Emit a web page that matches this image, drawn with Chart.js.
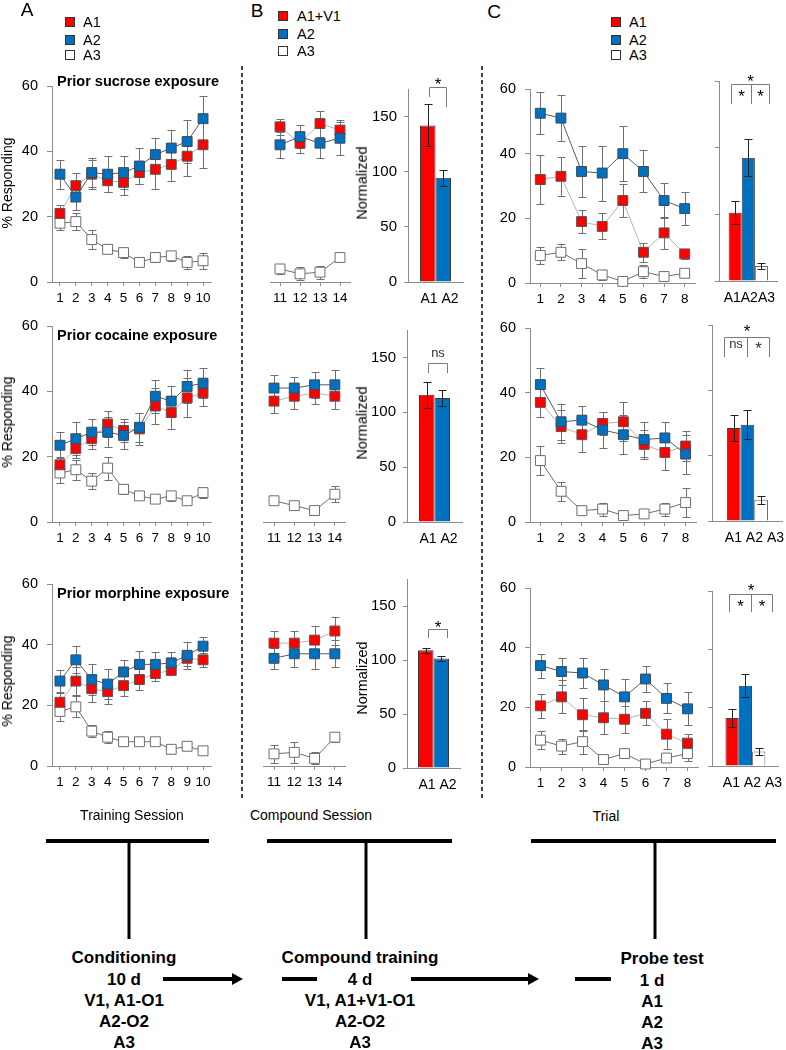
<!DOCTYPE html>
<html>
<head>
<meta charset="utf-8">
<script src="https://cdn.jsdelivr.net/npm/chart.js@4.4.1/dist/chart.umd.min.js"></script>
<style>
  body { margin: 0; width: 786px; height: 1050px; position: relative; overflow: hidden; background: #fff;
         font-family: "Liberation Sans", Arial, Helvetica, sans-serif; }
  canvas { position: absolute; }
  svg { position: absolute; left: 0; top: 0; }
  .t { position: absolute; white-space: nowrap; line-height: 1; color: #000; }
  .sw { position: absolute; width: 10px; height: 10px; box-sizing: border-box; border: 1px solid #333; }
</style>
</head>
<body>
<svg width="786" height="1050">
  <g stroke="#000" stroke-width="1.5" stroke-dasharray="4 3">
    <line x1="242" y1="66" x2="242" y2="798"/>
    <line x1="482" y1="66" x2="482" y2="798"/>
  </g>
  <g stroke="#000" stroke-width="4">
    <line x1="46" y1="841" x2="209" y2="841"/>
    <line x1="267" y1="841" x2="452" y2="841"/>
    <line x1="531" y1="841" x2="776" y2="841"/>
    <line x1="163" y1="979" x2="234" y2="979"/>
    <line x1="282" y1="979" x2="317" y2="979"/>
    <line x1="411" y1="979" x2="529" y2="979"/>
    <line x1="575" y1="979" x2="611" y2="979"/>
  </g>
  <g stroke="#000" stroke-width="3">
    <line x1="129" y1="841" x2="129" y2="939"/>
    <line x1="366" y1="841" x2="366" y2="939"/>
    <line x1="655" y1="841" x2="655" y2="939"/>
  </g>
  <polygon points="232,973 243,979 232,985" fill="#000"/>
  <polygon points="528,973 539,979 528,985" fill="#000"/>
</svg>
<script>
// ---------- data ----------
const sessions = ['1', '2', '3', '4', '5', '6', '7', '8', '9', '10'];
const compSessions = ['11', '12', '13', '14'];
const trials = ['1', '2', '3', '4', '5', '6', '7', '8'];
const normCats = ['A1', 'A2'];
const meanCats = ['A1', 'A2', 'A3'];

// prior sucrose exposure
const sucTrainA1 = [21, 29.5, 33, 31, 30.5, 33.5, 34.5, 36, 38.5, 42];
const sucTrainA1Err = [2.5, 4, 4.5, 3.5, 4, 3.5, 6, 5, 6, 7];
const sucTrainA2 = [33, 26, 33.5, 33, 33.5, 35.5, 39, 41, 43, 50];
const sucTrainA2Err = [4.5, 4, 4.5, 5.5, 5, 5.5, 5, 5.5, 6.5, 7];
const sucTrainA3 = [18, 18.5, 13, 10, 9, 6, 7.5, 8, 6, 6.5];
const sucTrainA3Err = [2, 2.5, 3, 1, 1.5, 0.5, 1.5, 1.5, 2, 2.5];
const sucCompA1 = [47.5, 42.5, 48.5, 46.5];
const sucCompA1Err = [2.5, 3, 4, 3];
const sucCompA2 = [42, 44.5, 42.5, 44];
const sucCompA2Err = [4, 3.5, 4.5, 5];
const sucCompA3 = [4, 2.5, 3, 7.5];
const sucCompA3Err = [1.5, 2, 2, 0.5];
const sucNorm = [142, 94.5];
const sucNormErr = [19, 7.5];
const sucProbeA1 = [32, 33, 19, 17.5, 25.5, 9.5, 15.5, 9];
const sucProbeA1Err = [7.5, 6, 3.5, 4, 5, 3, 5, 1.5];
const sucProbeA2 = [52.5, 51, 34.5, 34, 40, 34.5, 25.5, 23];
const sucProbeA2Err = [6.5, 7, 8, 8.5, 8.5, 6.5, 5.5, 5];
const sucProbeA3 = [8.5, 9.5, 6, 2.5, 0.5, 3.5, 2, 3];
const sucProbeA3Err = [2.5, 2.5, 4.5, 1.5, 0.5, 2, 1.5, 1];
const sucMean = [20.5, 37, 4.5];
const sucMeanErr = [3.5, 5.5, 1];

// prior cocaine exposure
const cocTrainA1 = [17.5, 22.5, 25.5, 30, 28, 28.5, 35.5, 33.5, 38, 39.5];
const cocTrainA1Err = [2.5, 3, 3, 4, 3.5, 5, 5.5, 5, 6, 4];
const cocTrainA2 = [23.5, 25.5, 27.5, 27.5, 26.5, 29, 38.5, 37, 41.5, 42.5];
const cocTrainA2Err = [4, 5, 4, 4.5, 4, 4.5, 5, 4.5, 5, 4.5];
const cocTrainA3 = [15, 16, 12.5, 16.5, 10, 8, 7, 8, 6.5, 9];
const cocTrainA3Err = [3, 3, 2.5, 3.5, 1.5, 1, 1, 1.5, 0.5, 1.5];
const cocCompA1 = [37, 38.5, 39.5, 38.5];
const cocCompA1Err = [3.5, 4, 3.5, 4];
const cocCompA2 = [41, 41, 42, 42];
const cocCompA2Err = [4, 3.5, 4, 4.5];
const cocCompA3 = [6.5, 5, 3.5, 8.5];
const cocCompA3Err = [0.5, 0.5, 0.5, 2.5];
const cocNorm = [116, 113];
const cocNormErr = [12, 7];
const cocProbeA1 = [37, 29.5, 27, 30.5, 31, 24, 21.5, 23.5];
const cocProbeA1Err = [4.5, 5, 5.5, 3.5, 6, 4.5, 5.5, 4.5];
const cocProbeA2 = [42.5, 31, 31.5, 28.5, 27, 25.5, 26, 21];
const cocProbeA2Err = [5, 5.5, 4.5, 5.5, 6, 5.5, 5, 6];
const cocProbeA3 = [19, 9.5, 3.5, 4, 2, 2.5, 4, 6];
const cocProbeA3Err = [4.5, 3, 1, 2, 1, 1, 2, 4.5];
const cocMean = [28.5, 29.5, 6.5];
const cocMeanErr = [4, 4.5, 1.2];

// prior morphine exposure
const morTrainA1 = [21, 28, 25.5, 24.5, 26.5, 28.5, 30.5, 31.5, 35.5, 35];
const morTrainA1Err = [3, 4.5, 4.5, 4, 3.5, 3.5, 2.5, 1.2, 2.5, 2.2];
const morTrainA2 = [28, 35, 28.5, 27, 31, 33.5, 33.5, 34, 36.5, 39.5];
const morTrainA2Err = [3.5, 4.5, 5, 5, 4, 4.5, 4, 3.5, 4.5, 3];
const morTrainA3 = [18, 19.5, 11.5, 9.5, 8, 8, 8, 5.5, 6.5, 5];
const morTrainA3Err = [3, 3.5, 2, 2, 1, 0.5, 0.5, 0.5, 0.5, 0.5];
const morCompA1 = [40.5, 40.5, 41.5, 44.5];
const morCompA1Err = [4, 4, 4.5, 4.5];
const morCompA2 = [35.5, 37, 37, 37];
const morCompA2Err = [3.5, 4.5, 5, 4.5];
const morCompA3 = [4, 4.5, 2.5, 9.5];
const morCompA3Err = [3, 3.5, 2, 1.5];
const morNorm = [109, 101.5];
const morNormErr = [2.5, 2];
const morProbeA1 = [20.5, 23.5, 17.5, 16.5, 16, 18, 11, 8];
const morProbeA1Err = [4, 5.5, 5.5, 5.5, 4.5, 4, 5, 3];
const morProbeA2 = [34, 32, 31.5, 27.5, 23.5, 29.5, 23, 19.5];
const morProbeA2Err = [4, 4.5, 5, 5.5, 6, 4.5, 5, 5.5];
const morProbeA3 = [9, 7, 8.5, 2.5, 4.5, 1, 3, 4.5];
const morProbeA3Err = [3, 2.5, 4, 0.5, 1.5, 0.5, 0.5, 2.5];
const morMean = [16.5, 27.5, 5];
const morMeanErr = [3, 4, 1.2];

// ---------- styling ----------
const FONT = '"Liberation Sans", Arial, Helvetica, sans-serif';
const RED = '#ff0000', BLUE = '#0070c0';
const AXIS = '#8c8c8c';
const seriesStyle = [
  { fill: RED, line: '#b4b4b4', border: '#555', order: 1 },
  { fill: BLUE, line: '#5a5a5a', border: '#3c4a5a', order: 0 },
  { fill: '#ffffff', line: '#6e6e6e', border: '#6e6e6e', order: 2 }
];
const barColors = [RED, BLUE, '#ffffff'];

const rows = [
  { title: 'Prior sucrose exposure', titleY: 81, midY: 183, normY: 183,
    train: [sucTrainA1, sucTrainA2, sucTrainA3], trainErr: [sucTrainA1Err, sucTrainA2Err, sucTrainA3Err],
    comp: [sucCompA1, sucCompA2, sucCompA3], compErr: [sucCompA1Err, sucCompA2Err, sucCompA3Err],
    norm: sucNorm, normErr: sucNormErr,
    probe: [sucProbeA1, sucProbeA2, sucProbeA3], probeErr: [sucProbeA1Err, sucProbeA2Err, sucProbeA3Err],
    mean: sucMean, meanErr: sucMeanErr, meanLabel: meanCats.join(''), meanShift: 1,
    box: { A: {l: 52, r: 211, t: 86, b: 282}, Bl: {l: 269, r: 350, t: 86, b: 282}, Bb: {l: 408, r: 463, t: 89, b: 282},
           Cl: {l: 530, r: 695, t: 89, b: 283}, Cb: {l: 719, r: 783, t: 81, b: 281} },
    normSig: { top: 177, legs: [[0, 0.1, 168], [1, 0.2, 159]], texts: [{ t: '*', between: [0, 1], y: 182.7 }] },
    meanSig: { top: 59.1, legs: [[0, -0.35, 53.1], [1, 0.17, 53.1], [2, 0.56, 53.1]],
               texts: [{ t: '*', between: [0, 2], y: 61.2 }, { t: '*', between: [0, 1], y: 56.7 }, { t: '*', between: [1, 2], y: 56.7 }] } },
  { title: 'Prior cocaine exposure', titleY: 335, midY: 422, normY: 423,
    train: [cocTrainA1, cocTrainA2, cocTrainA3], trainErr: [cocTrainA1Err, cocTrainA2Err, cocTrainA3Err],
    comp: [cocCompA1, cocCompA2, cocCompA3], compErr: [cocCompA1Err, cocCompA2Err, cocCompA3Err],
    norm: cocNorm, normErr: cocNormErr,
    probe: [cocProbeA1, cocProbeA2, cocProbeA3], probeErr: [cocProbeA1Err, cocProbeA2Err, cocProbeA3Err],
    mean: cocMean, meanErr: cocMeanErr, meanLabel: meanCats.join(' '), meanShift: 7,
    box: { A: {l: 52, r: 211, t: 326, b: 522}, Bl: {l: 263, r: 345, t: 326, b: 522}, Bb: {l: 407, r: 462, t: 330, b: 522},
           Cl: {l: 530, r: 696, t: 328, b: 522}, Cb: {l: 712, r: 786, t: 325, b: 521} },
    normSig: { top: 145, legs: [[0, 0.1, 136], [1, 0.3, 136]], texts: [{ t: 'ns', between: [0, 1], y: 153.5 }] },
    meanSig: { top: 56.2, legs: [[0, -0.7, 50.1], [1, 0, 50.1], [2, 0.56, 50.1]],
               texts: [{ t: '*', between: [0, 2], y: 59.3 }, { t: 'ns', between: [0, 1], y: 54.1 }, { t: '*', between: [1, 2], y: 54.1 }] } },
  { title: 'Prior morphine exposure', titleY: 593, midY: 681, normY: 678,
    train: [morTrainA1, morTrainA2, morTrainA3], trainErr: [morTrainA1Err, morTrainA2Err, morTrainA3Err],
    comp: [morCompA1, morCompA2, morCompA3], compErr: [morCompA1Err, morCompA2Err, morCompA3Err],
    norm: morNorm, normErr: morNormErr,
    probe: [morProbeA1, morProbeA2, morProbeA3], probeErr: [morProbeA1Err, morProbeA2Err, morProbeA3Err],
    mean: morMean, meanErr: morMeanErr, meanLabel: meanCats.join(' '), meanShift: 7,
    box: { A: {l: 52, r: 211, t: 584, b: 766}, Bl: {l: 263, r: 345, t: 584, b: 766}, Bb: {l: 407, r: 460, t: 579, b: 768},
           Cl: {l: 530, r: 698, t: 588, b: 767}, Cb: {l: 712, r: 784, t: 591, b: 766} },
    normSig: { top: 128.7, legs: [[0, 0.15, 120.4], [1, 0.4, 120.4]], texts: [{ t: '*', between: [0, 1], y: 134 }] },
    meanSig: { top: 58.9, legs: [[0, -0.25, 52.7], [1, 0.42, 52.7], [2, 1.0, 52.7]],
               texts: [{ t: '*', between: [0, 2], y: 61.6 }, { t: '*', between: [0, 1], y: 56.2 }, { t: '*', between: [1, 2], y: 56.2 }] } }
];

// ---------- plugins: error bars and significance brackets ----------
function drawErrorBars(chart, cap, color) {
  const ctx = chart.ctx, ys = chart.scales.y;
  ctx.save();
  ctx.strokeStyle = color;
  ctx.lineWidth = 1;
  chart.data.datasets.forEach((ds, di) => {
    if (!ds.errors) return;
    chart.getDatasetMeta(di).data.forEach((el, i) => {
      const v = ds.data[i], e = ds.errors[i];
      const x = Math.round(el.x) + 0.5;
      const top = Math.round(ys.getPixelForValue(v + e)) + 0.5;
      const bot = Math.round(ys.getPixelForValue(Math.max(0, v - e))) + 0.5;
      ctx.beginPath();
      ctx.moveTo(x, top); ctx.lineTo(x, bot);
      ctx.moveTo(x - cap, top); ctx.lineTo(x + cap, top);
      ctx.moveTo(x - cap, bot); ctx.lineTo(x + cap, bot);
      ctx.stroke();
    });
  });
  ctx.restore();
}

function drawBrackets(chart, spec) {
  const ctx = chart.ctx, ys = chart.scales.y;
  const xs = spec.legs.map(([b, off]) => {
    const el = chart.getDatasetMeta(b).data[0];
    return Math.round(el.x + off * el.width) + 0.5;
  });
  const top = Math.round(ys.getPixelForValue(spec.top)) + 0.5;
  ctx.save();
  ctx.strokeStyle = '#7a7a7a';
  ctx.lineWidth = 1;
  ctx.beginPath();
  ctx.moveTo(Math.min(...xs), top);
  ctx.lineTo(Math.max(...xs), top);
  spec.legs.forEach((leg, i) => {
    ctx.moveTo(xs[i], top);
    ctx.lineTo(xs[i], Math.round(ys.getPixelForValue(leg[2])));
  });
  ctx.stroke();
  ctx.fillStyle = '#000';
  ctx.textAlign = 'center';
  spec.texts.forEach(tx => {
    const x = (xs[tx.between[0]] + xs[tx.between[1]]) / 2;
    const y = ys.getPixelForValue(tx.y);
    if (tx.t === '*') {
      ctx.font = '17px ' + FONT;
      ctx.textBaseline = 'alphabetic';
      ctx.fillText('*', x, y + 0.58 * 17);
    } else {
      ctx.font = '13px ' + FONT;
      ctx.fillStyle = '#333';
      ctx.textBaseline = 'middle';
      ctx.fillText(tx.t, x, y);
    }
  });
  ctx.restore();
}

Chart.register({
  id: 'errorsAndBrackets',
  beforeDatasetsDraw(chart) {
    if (chart.config.type === 'line') drawErrorBars(chart, 4, '#707070');
  },
  afterDatasetsDraw(chart) {
    if (chart.config.type === 'bar') drawErrorBars(chart, 4, '#222');
    if (chart.canvas._sig) drawBrackets(chart, chart.canvas._sig);
  }
});

// ---------- helpers ----------
function makeCanvas(box, yW, xH, padT, padR) {
  const c = document.createElement('canvas');
  const w = box.r - box.l + yW + padR;
  const h = box.b - box.t + padT + xH;
  c.width = w; c.height = h;
  c.style.left = (box.l - yW) + 'px';
  c.style.top = (box.t - padT) + 'px';
  c.style.width = w + 'px';
  c.style.height = h + 'px';
  document.body.appendChild(c);
  return c;
}

function baseOptions(padT, padR) {
  return {
    responsive: false, animation: false, devicePixelRatio: 1, events: [],
    layout: { autoPadding: false, padding: { left: 0, top: padT, right: padR, bottom: 0 } },
    plugins: { legend: { display: false }, tooltip: { enabled: false } }
  };
}

function lineChart(box, labels, series, errs, showY) {
  const yW = showY ? 52 : 0, xH = 30, padT = 20, padR = 4;
  const canvas = makeCanvas(box, yW, xH, padT, padR);
  const opts = baseOptions(padT, padR);
  opts.scales = {
    x: {
      type: 'category', offset: true,
      grid: { drawOnChartArea: false, drawTicks: true, tickLength: 4, color: AXIS },
      border: { display: true, color: AXIS },
      ticks: { autoSkip: false, maxRotation: 0, padding: 4, color: '#000', font: { family: FONT, size: 13.5 } },
      afterFit: s => { s.height = xH; }
    },
    y: {
      display: showY, min: 0, max: 60,
      grid: { drawOnChartArea: false, tickLength: 5, color: AXIS },
      border: { color: AXIS },
      ticks: { stepSize: 20, padding: 9, color: '#000', font: { family: FONT, size: 14.5 } },
      afterFit: s => { s.width = yW; }
    }
  };
  new Chart(canvas, {
    type: 'line',
    data: {
      labels: labels,
      datasets: series.map((d, i) => ({
        data: d, errors: errs[i], order: seriesStyle[i].order,
        borderColor: seriesStyle[i].line, borderWidth: 1, tension: 0, clip: false,
        pointStyle: 'rect', pointRadius: 7,
        pointBackgroundColor: seriesStyle[i].fill, pointBorderColor: seriesStyle[i].border, pointBorderWidth: 1
      }))
    },
    options: opts
  });
}

function barChart(box, label, vals, errs, opt) {
  const yW = opt.yW, xH = 30, padT = 22, padR = opt.padR;
  const canvas = makeCanvas(box, yW, xH, padT, padR);
  canvas._sig = opt.sig;
  const options = baseOptions(padT, padR);
  options.scales = {
    x: {
      type: 'category',
      grid: { display: false, drawTicks: false },
      border: { display: true, color: AXIS },
      ticks: { autoSkip: false, maxRotation: 0, padding: 9, labelOffset: opt.labelShift,
               color: '#000', font: { family: FONT, size: 14 } },
      afterFit: s => { s.height = xH; }
    },
    y: {
      min: 0, max: opt.max,
      grid: { drawOnChartArea: false, tickLength: 4, color: AXIS },
      border: { color: AXIS },
      ticks: { stepSize: opt.step, includeBounds: false, padding: opt.tickPad, color: '#000',
               font: { family: FONT, size: 15 }, callback: opt.showLabels ? (v => v) : (() => '') },
      afterFit: s => { s.width = yW; }
    }
  };
  const pct = opt.groupWidth / (box.r - box.l);
  new Chart(canvas, {
    type: 'bar',
    data: {
      labels: [label],
      datasets: vals.map((v, i) => ({
        data: [v], errors: [errs[i]],
        backgroundColor: barColors[i], borderColor: i === 2 ? '#6e6e6e' : '#3a3a3a', borderWidth: 1,
        barPercentage: 1, categoryPercentage: pct
      }))
    },
    options: options
  });
}

function text(str, x, y, o = {}) {
  const d = document.createElement('div');
  d.className = 't';
  d.textContent = str;
  d.style.left = x + 'px';
  d.style.top = y + 'px';
  d.style.fontSize = (o.size || 14) + 'px';
  if (o.bold) d.style.fontWeight = 'bold';
  const tx = o.align === 'left' ? '0' : '-50%';
  d.style.transform = 'translate(' + tx + ',-50%)' + (o.rot ? ' rotate(-90deg)' : '');
  document.body.appendChild(d);
}

function swatch(x, y, color) {
  const s = document.createElement('div');
  s.className = 'sw';
  s.style.left = x + 'px';
  s.style.top = (y - 5) + 'px';
  s.style.background = color;
  document.body.appendChild(s);
}

// ---------- panels ----------
rows.forEach(row => {
  lineChart(row.box.A, sessions, row.train, row.trainErr, true);
  lineChart(row.box.Bl, compSessions, row.comp, row.compErr, false);
  barChart(row.box.Bb, normCats.join(' '), row.norm, row.normErr,
           { yW: 52, padR: 4, max: 175, step: 50, tickPad: 7, showLabels: true, groupWidth: 31,
             labelShift: 4, sig: row.normSig });
  lineChart(row.box.Cl, trials, row.probe, row.probeErr, true);
  barChart(row.box.Cb, row.meanLabel, row.mean, row.meanErr,
           { yW: 8, padR: 0, max: 60, step: 20, tickPad: 0, showLabels: false, groupWidth: 43,
             labelShift: row.meanShift, sig: row.meanSig });

  text(row.title, 57, row.titleY, { size: 14.5, bold: true, align: 'left' });
  text('% Responding', 7, row.midY, { size: 14, rot: true });
  text('Normalized', 362, row.normY, { size: 14.5, rot: true });
});

// ---------- legends and letters ----------
text('A', 27, 9, { size: 19 });
text('B', 257, 10, { size: 19 });
text('C', 494, 11, { size: 19 });

[[65, 83, [22, 39.5, 54.5], ['A1', 'A2', 'A3']],
 [278, 297, [16, 33.5, 50.5], ['A1+V1', 'A2', 'A3']],
 [611, 629, [22, 39.5, 54.5], ['A1', 'A2', 'A3']]].forEach(([bx, tx, ys, names]) => {
  names.forEach((n, i) => {
    swatch(bx, ys[i], barColors[i]);
    text(n, tx, ys[i], { size: 14.5, align: 'left' });
  });
});

// ---------- axis captions and design diagram ----------
text('Training Session', 132, 815, { size: 14 });
text('Compound Session', 311, 815, { size: 14 });
text('Trial', 606, 816, { size: 14 });

[['Conditioning', 957], ['10 d', 979], ['V1, A1-O1', 1000], ['A2-O2', 1021], ['A3', 1042]]
  .forEach(([s, y]) => text(s, 124, y, { size: 17, bold: true }));
[['Compound training', 957], ['4 d', 979], ['V1, A1+V1-O1', 1000], ['A2-O2', 1021], ['A3', 1042]]
  .forEach(([s, y]) => text(s, 360, y, { size: 17, bold: true }));
text('Probe test', 662, 958, { size: 17, bold: true });
[['1 d', 980], ['A1', 1001], ['A2', 1022], ['A3', 1043]]
  .forEach(([s, y]) => text(s, 652, y, { size: 17, bold: true }));
</script>
</body>
</html>
